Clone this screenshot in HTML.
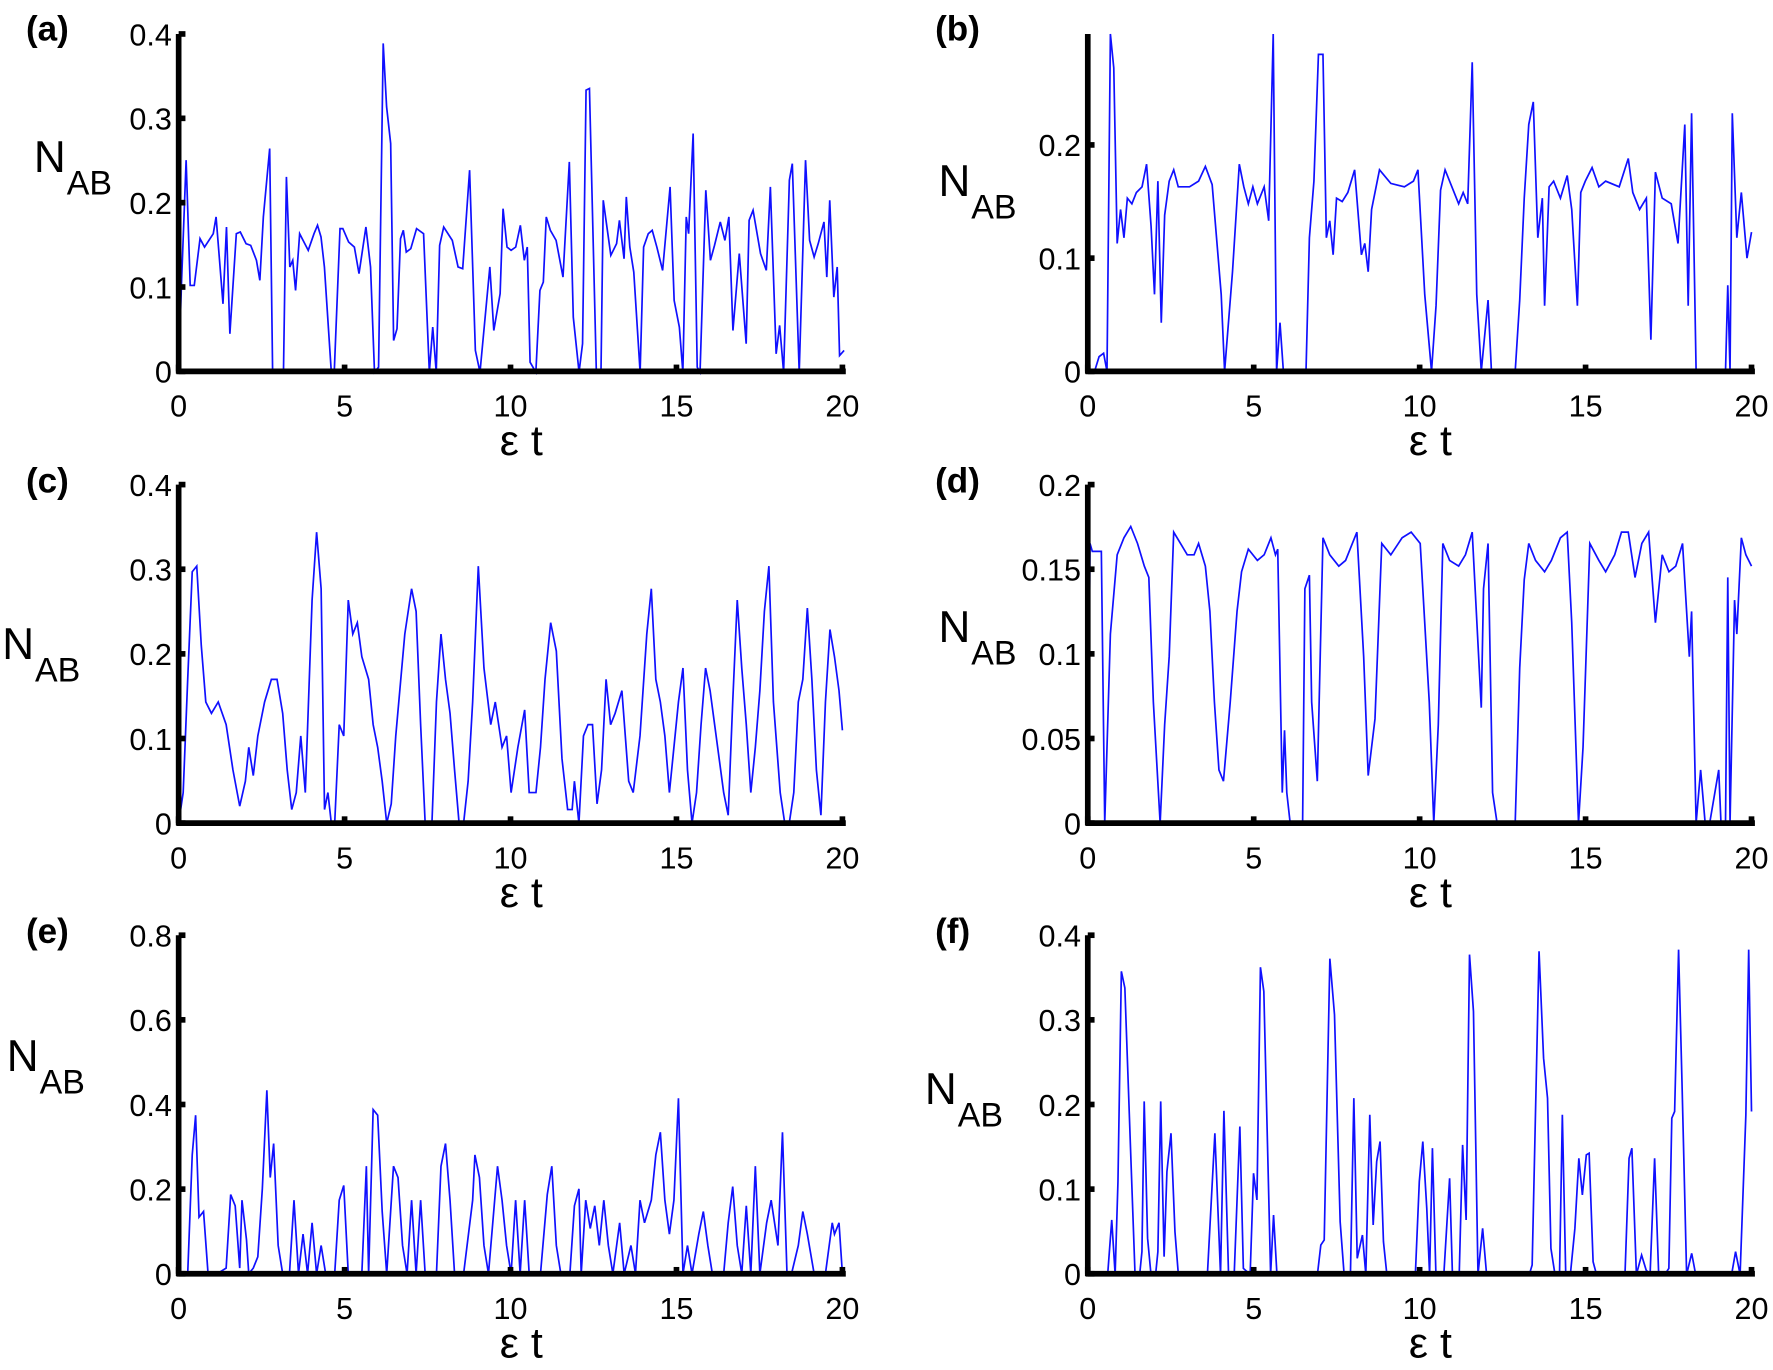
<!DOCTYPE html>
<html><head><meta charset="utf-8"><style>
html,body{margin:0;padding:0;background:#fff;}
svg{display:block;}
text{font-family:"Liberation Sans",sans-serif;fill:#000;}
</style></head><body>
<svg id="s" width="1773" height="1370" viewBox="0 0 1568 1210" preserveAspectRatio="none" xmlns="http://www.w3.org/2000/svg"></svg>
<script>
const S=document.getElementById('s');let h='';
function T(x,y,s,anchor,txt,extra){h+=`<text x="${x}" y="${y}" font-size="${s}" text-anchor="${anchor}" ${extra||''}>${txt}</text>`;}
function panel(x0,y0,top,ymax,yt,fmt,lab,nabX,nabY,pts){
 const x1=x0+587, sx=587/20, sy=(y0-top)/ymax;
 h+=`<polyline fill="none" stroke="#1010ff" stroke-width="1.5" points="${pts.map(p=>p[0].toFixed(1)+','+p[1].toFixed(1)).join(' ')}"/>`;
 h+=`<line x1="${x0}" y1="${top}" x2="${x0}" y2="${y0+2}" stroke="#000" stroke-width="5"/>`;
 h+=`<line x1="${x0-2}" y1="${y0}" x2="${x1+3}" y2="${y0}" stroke="#000" stroke-width="5"/>`;
 for(let t=0;t<=20;t+=5){const x=x0+t*sx;h+=`<line x1="${x}" y1="${y0}" x2="${x}" y2="${y0-6}" stroke="#000" stroke-width="5"/>`;T(x,y0+40,27,'middle',t);}
 yt.forEach(v=>{const y=y0-v*sy;h+=`<line x1="${x0}" y1="${y}" x2="${x0+6}" y2="${y}" stroke="#000" stroke-width="5"/>`;T(x0-6,y+10,27,'end',fmt(v));});
 T(x0+303,y0+74,38,'middle','ε t');
 T(x0-135,y0-292,31,'start',lab,'font-weight="bold"');
 T(nabX,nabY,39,'start','N');T(nabX+29,nabY+20,30,'start','AB');
}
const f1=v=>v===0?'0':String(+v.toFixed(2));
const A=[[315,1115],[320,850],[328,480],[335,855],[342,855],[352,715],[360,740],[375,700],[380,650],[392,910],[398,680],[404,1000],[415,700],[422,695],[432,730],[440,735],[450,780],[456,840],[462,650],[473,445],[478,1115],[497,1115],[502,530],[508,800],[513,780],[518,870],[525,700],[540,750],[550,700],[556,675],[562,710],[568,800],[580,1115],[585,1115],[595,685],[600,685],[610,725],[620,740],[628,820],[640,680],[648,800],[655,1115],[662,1100],[670,130],[676,320],[683,430],[688,1020],[694,985],[700,715],[705,690],[710,755],[718,745],[728,685],[740,700],[750,1115],[756,980],[762,1115],[768,735],[775,680],[790,720],[800,800],[808,805],[820,510],[830,1050],[838,1115],[855,800],[862,990],[873,880],[878,625],[885,740],[892,750],[900,740],[908,675],[915,780],[920,740],[925,1085],[935,1115],[942,870],[948,845],[953,650],[960,690],[970,720],[982,830],[993,485],[1000,950],[1010,1115],[1016,1030],[1022,270],[1028,265],[1040,1115],[1048,1115],[1052,600],[1065,765],[1075,730],[1080,660],[1088,775],[1092,590],[1098,740],[1105,815],[1116,1115],[1122,740],[1130,700],[1137,690],[1145,740],[1155,810],[1168,560],[1175,900],[1184,980],[1190,1115],[1196,650],[1200,700],[1208,400],[1215,1100],[1220,1115],[1230,570],[1238,780],[1245,735],[1255,665],[1263,720],[1270,650],[1277,990],[1288,760],[1300,1030],[1305,660],[1312,630],[1325,760],[1335,810],[1342,560],[1352,1060],[1358,975],[1365,1115],[1375,540],[1380,490],[1392,1115],[1403,480],[1410,720],[1418,770],[1425,730],[1435,665],[1440,830],[1445,600],[1452,890],[1458,800],[1462,1065],[1470,1050]].map(p=>[158+(p[0]-315)/57.6*29.35,p[1]/3/1.1307]);
const F=[[365,1178],[400,1178],[407,1015],[413,1178],[418,900],[424,270],[430,320],[440,800],[448,1178],[456,1178],[460,1110],[464,660],[470,1070],[476,1178],[484,1178],[488,1110],[493,660],[499,1125],[504,870],[511,755],[518,1050],[524,1178],[575,1178],[588,755],[598,1178],[604,688],[612,1178],[622,1178],[632,735],[638,1160],[650,1178],[656,875],[662,955],[668,258],[674,330],[686,1178],[691,1000],[697,1178],[768,1178],[774,1090],[780,1075],[790,232],[798,400],[808,1020],[815,1178],[826,1178],[832,650],[838,1130],[847,1060],[853,1178],[860,700],[866,1030],[872,840],[878,780],[884,1080],[890,1178],[940,1178],[947,900],[953,780],[960,980],[965,1178],[970,800],[976,1178],[990,1178],[1000,890],[1005,1178],[1017,1178],[1023,790],[1029,1015],[1035,220],[1042,390],[1050,1178],[1058,1040],[1065,1178],[1140,1178],[1145,1150],[1157,210],[1165,530],[1172,650],[1178,1100],[1185,1178],[1193,1178],[1198,700],[1204,1178],[1212,1178],[1220,1040],[1227,830],[1233,940],[1240,820],[1245,815],[1252,1140],[1258,1178],[1308,1178],[1315,830],[1320,800],[1328,1178],[1337,1120],[1345,1165],[1352,1178],[1360,830],[1367,1178],[1378,1178],[1385,1160],[1390,710],[1395,690],[1402,205],[1408,600],[1416,1178],[1425,1115],[1432,1178],[1495,1178],[1502,1110],[1510,1178],[1520,700],[1525,205],[1530,690]].map(p=>[962+(p[0]-365)/58.25*29.35,(p[1]/3+880)/1.1307]);
const pr=a=>{const r=[];for(let i=0;i<a.length;i+=2)r.push([a[i],a[i+1]]);return r;};
const B=pr([962,328,968,328,972,315,976,312,979,328,982,30,985,60,988,215,991,185,994,210,997,175,1001,180,1005,170,1010,165,1014,145,1018,200,1021,260,1024,160,1027,285,1030,190,1034,160,1038,150,1042,165,1046,165,1052,165,1060,160,1066,147,1072,163,1080,260,1083,328,1090,240,1096,145,1100,165,1104,180,1108,165,1112,180,1118,165,1122,195,1126,30,1129,328,1132,285,1135,328,1155,328,1158,210,1162,160,1166,48,1170,48,1173,210,1176,195,1179,225,1182,175,1187,178,1192,170,1198,150,1204,225,1207,215,1210,240,1213,185,1217,165,1220,150,1230,162,1242,165,1250,160,1254,150,1260,260,1266,328,1270,270,1274,168,1278,150,1284,165,1290,180,1294,170,1298,180,1302,55,1306,260,1310,328,1316,265,1319,328,1340,328,1344,265,1348,175,1352,110,1356,90,1360,210,1364,175,1366,270,1370,165,1374,160,1380,175,1386,155,1390,185,1395,270,1398,170,1402,160,1408,148,1414,165,1420,160,1432,165,1440,140,1444,170,1450,185,1456,175,1460,300,1464,152,1470,175,1478,180,1484,215,1490,110,1493,270,1496,100,1500,328,1506,328,1526,328,1528,252,1530,328,1532,100,1536,210,1540,170,1545,228,1549,205]);
const C=pr([158,727,162,700,166,600,170,505,174,500,178,570,182,620,187,630,193,620,200,640,206,680,212,712,217,690,220,660,224,685,228,650,234,620,240,600,245,600,250,630,254,680,258,715,262,700,266,650,270,700,276,530,280,470,284,520,287,715,290,700,293,727,296,727,300,640,304,650,308,530,312,560,316,550,320,580,326,600,330,640,334,660,338,690,342,727,346,710,350,650,358,560,364,520,368,540,372,640,376,727,382,727,386,620,390,560,394,600,398,630,402,680,406,727,410,727,414,690,418,620,423,500,428,590,434,640,438,620,444,660,448,650,452,700,458,660,464,627,468,700,474,700,478,660,482,600,487,550,492,575,497,670,502,715,506,715,508,690,512,727,516,650,520,640,524,640,528,710,532,680,536,600,540,640,544,630,550,610,556,690,560,700,566,650,572,560,576,520,580,600,584,620,588,650,592,700,600,620,604,590,608,680,612,727,616,700,620,640,624,590,628,610,632,640,636,670,640,700,644,720,648,620,652,530,656,590,660,640,664,700,668,660,672,610,676,540,680,500,684,620,690,700,694,727,698,727,702,700,706,620,710,600,714,537,718,600,722,680,726,720,730,620,734,556,738,580,742,610,745,645]);
const D=pr([962,727,964,480,966,487,970,487,974,487,977,727,982,560,988,490,994,475,1000,465,1006,480,1012,500,1016,510,1020,620,1026,727,1030,640,1034,580,1038,470,1044,480,1050,490,1056,490,1060,480,1066,500,1070,540,1074,620,1078,680,1082,690,1088,620,1094,540,1098,505,1104,485,1112,495,1118,490,1124,475,1128,490,1130,485,1134,700,1136,645,1138,700,1141,727,1152,727,1154,520,1158,508,1160,620,1165,690,1170,475,1176,490,1184,500,1190,495,1196,480,1200,470,1206,580,1210,685,1216,635,1222,480,1230,490,1240,475,1248,470,1256,480,1264,620,1268,727,1272,640,1276,480,1282,495,1290,500,1296,490,1302,470,1310,625,1312,520,1316,480,1320,700,1324,727,1340,727,1344,590,1348,512,1352,480,1358,495,1366,505,1372,495,1380,475,1386,470,1390,550,1396,727,1400,660,1406,480,1414,495,1420,505,1428,490,1434,470,1440,470,1446,510,1452,480,1458,470,1464,550,1470,490,1476,505,1482,500,1488,480,1494,580,1496,540,1500,727,1504,680,1508,727,1512,727,1520,680,1522,727,1526,727,1528,510,1530,727,1534,530,1536,560,1540,475,1544,490,1549,500]);
const E=pr([158,1125,166,1125,170,1020,173,985,176,1075,180,1070,184,1125,192,1125,200,1120,204,1055,208,1065,212,1120,214,1060,218,1095,220,1125,224,1120,228,1110,232,1050,236,963,239,1040,242,1010,246,1100,250,1125,256,1125,260,1060,264,1125,268,1090,272,1125,276,1080,280,1125,284,1100,288,1125,296,1125,300,1060,304,1047,308,1125,320,1125,324,1030,326,1125,330,980,334,985,338,1070,342,1125,348,1030,352,1040,356,1100,360,1125,364,1060,368,1125,372,1060,376,1125,386,1125,390,1030,394,1010,398,1060,402,1125,410,1125,418,1060,420,1020,424,1040,428,1100,432,1125,440,1030,444,1060,448,1100,452,1125,456,1060,460,1125,464,1060,468,1125,478,1125,484,1055,488,1030,492,1100,496,1125,504,1125,508,1065,512,1050,514,1125,518,1060,522,1085,526,1065,530,1100,534,1060,538,1100,542,1125,548,1080,552,1125,558,1100,562,1125,566,1060,570,1080,576,1060,580,1020,584,1000,588,1060,592,1090,596,1060,600,970,604,1125,608,1100,612,1125,618,1090,622,1070,626,1100,630,1125,640,1125,644,1080,648,1048,652,1100,656,1125,660,1065,664,1125,668,1030,672,1125,678,1080,682,1060,688,1100,692,1000,696,1125,700,1125,706,1100,710,1070,714,1090,720,1125,730,1125,736,1080,738,1090,742,1080,745,1125]);
panel(158,328,30,0.4,[0,0.1,0.2,0.3,0.4],f1,'(a)',30,152,A);
panel(962,328,30,0.298,[0,0.1,0.2],f1,'(b)',830,173,B);
panel(158,727,428,0.4,[0,0.1,0.2,0.3,0.4],f1,'(c)',2,582,C);
panel(962,727,428,0.2,[0,0.05,0.1,0.15,0.2],f1,'(d)',830,567,D);
panel(158,1125,826,0.8,[0,0.2,0.4,0.6,0.8],f1,'(e)',6,946,E);
panel(962,1125,826,0.4,[0,0.1,0.2,0.3,0.4],f1,'(f)',818,975,F);
S.innerHTML=h;
</script>
</body></html>
